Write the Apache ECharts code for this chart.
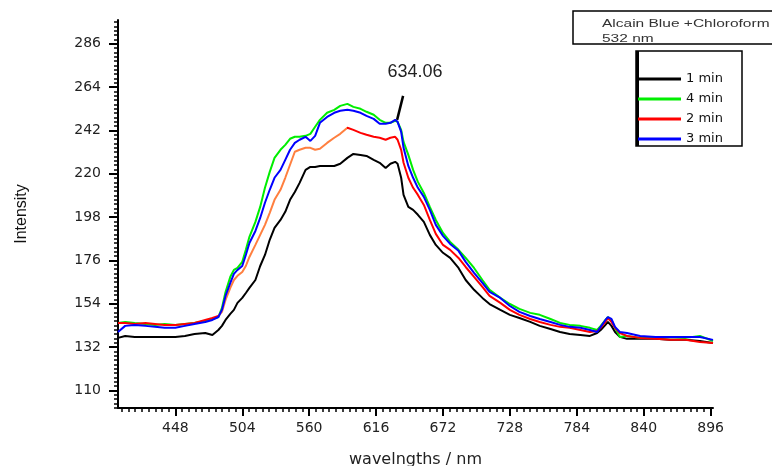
<!DOCTYPE html>
<html><head><meta charset="utf-8">
<script src="https://cdn.jsdelivr.net/npm/echarts@6/dist/echarts.min.js"></script>
<style>html,body{margin:0;padding:0;background:#fff}#c{width:772px;height:466px}</style>
</head><body><div id="c"></div>
<script>
// wavelengths (nm)
const wavelengths = [400,406,414,423,431,439,448,456,464,473,479,484,487,490,494,497,500,504,507,510,515,519,523,527,531,536,540,544,548,552,557,561,565,569,575,581,586,592,597,603,608,614,619,624,628,632,634,637,639,643,647,651,656,661,666,672,678,685,691,698,705,711,720,728,736,745,753,762,770,778,787,795,801,804,808,810,813,816,820,826,837,850,862,875,887,898];
// Intensity, 1 min (black)
const min1 = [136.6,137.6,137.1,137.1,137.1,137.1,137.1,137.6,138.6,139.1,138.1,140.6,142.7,145.7,148.8,150.8,154.4,156.9,159.4,162.0,166.0,173.1,178.7,186.4,192.5,196.5,200.6,206.7,210.7,215.3,221.9,223.4,223.4,223.9,223.9,223.9,225.0,228.0,230.0,229.5,229.0,227.0,225.5,222.9,225.0,226.0,225.0,217.9,209.2,203.1,201.6,199.1,195.5,188.9,183.8,179.8,177.2,172.1,166.0,161.0,156.9,153.8,150.8,148.3,146.7,144.7,142.7,141.1,139.6,138.6,138.1,137.6,139.1,140.6,143.2,144.7,142.7,139.6,137.1,136.1,136.1,136.1,135.6,135.6,135.0,134.0];
// Intensity, 4 min (green)
const min4 = [144.2,144.7,144.2,143.7,143.2,143.7,143.2,143.7,144.2,145.2,146.2,147.2,151.8,159.9,167.6,171.1,172.1,175.2,181.3,187.9,195.5,203.1,212.8,220.9,228.0,232.1,234.6,237.7,238.7,238.7,239.2,240.2,243.8,247.3,250.9,252.4,254.4,255.4,253.9,252.9,251.4,249.9,247.3,245.8,245.8,246.8,246.3,242.2,236.1,229.5,221.9,215.8,210.2,203.1,196.5,189.9,185.3,181.3,177.2,172.1,166.0,161.0,156.9,153.8,151.3,149.3,148.3,146.2,144.2,143.2,142.7,141.7,140.6,142.7,145.7,147.2,145.7,141.7,137.1,137.6,136.6,136.6,137.1,136.6,137.6,135.0];
// Intensity, 2 min (red)
const min2 = [144.2,144.2,143.7,144.2,143.7,143.2,143.2,143.7,144.2,145.7,146.7,147.7,149.8,155.9,162.0,166.0,168.1,170.1,173.1,177.7,183.8,188.9,194.0,200.1,206.7,211.8,217.9,224.5,231.1,232.1,233.1,233.1,232.1,232.6,235.6,238.2,240.2,243.3,242.2,240.7,239.7,238.7,238.2,237.2,238.2,238.7,237.2,232.1,225.5,217.9,212.8,209.2,204.1,196.5,189.4,183.8,181.3,177.2,172.6,167.6,162.5,157.9,154.4,150.8,148.3,146.2,144.7,143.2,142.2,141.7,140.6,139.6,140.1,141.7,144.7,146.7,144.7,141.7,139.1,137.6,136.6,136.1,135.6,135.6,134.5,134.0];
// Intensity, 3 min (blue)
const min3 = [139.6,142.7,143.2,142.7,142.2,141.7,141.7,142.7,143.7,144.7,145.7,147.2,150.8,157.9,164.5,169.1,171.1,173.1,178.7,184.8,190.9,197.5,205.2,211.8,217.9,221.9,227.0,232.1,235.6,237.2,238.7,236.6,239.2,245.8,248.8,250.9,251.9,252.4,251.9,250.9,249.3,247.8,245.3,245.3,245.8,247.3,246.3,241.2,233.1,223.9,217.9,212.8,208.2,201.6,194.0,188.4,184.3,180.8,175.2,169.6,164.5,159.9,156.9,152.8,149.8,147.7,146.2,144.7,143.2,142.2,141.7,140.6,139.6,142.2,145.7,147.2,146.2,142.2,139.6,139.1,137.6,137.1,137.1,137.1,137.1,135.6];

const seriesNames = ['1 min','4 min','2 min','3 min'];
const seriesColors = ['#000000','#00ee00','#ff0000','#0000ff'];
const orangeSegment = [484, 592];
const orangeColor = '#ff7f3f';
const xTicks = [448,504,560,616,672,728,784,840,896];
const yTicks = [110,132,154,176,198,220,242,264,286];
const peakLabel = '634.06';
const peakArrow = [[633.6,247.3],[638.6,259.5]];
const peakLabelAt = [648.5,271.7];
const boxTitle = ['Alcain Blue +Chloroform','532 nm'];

const X_MIN = 400, X_MAX = 898, Y_MIN = 101, Y_MAX = 298;
const xMinor = []; for (let i = 0; i < 100; i++) { const v = +(403.2 + i*5.6).toFixed(1); if (v > X_MAX) break; xMinor.push(v); }
const yMinor = []; for (let i = 0; i < 100; i++) { const v = +(101.2 + i*2.2).toFixed(1); if (v > Y_MAX) break; yMinor.push(v); }

function pairs(vals){ return wavelengths.map((w,i)=>[w, vals[i]]); }
const allVals = [min1, min4, min2, min3];

const font = 'DejaVu Sans';
const chart = echarts.init(document.getElementById('c'), null, {renderer:'canvas'});
const series = seriesNames.map((n,i)=>{
  const s = {name:n, type:'line', xAxisIndex:0, yAxisIndex:0, data:pairs(allVals[i]),
    showSymbol:false, symbol:'none', smooth:false, lineStyle:{width:2}, z:2+i};
  if (i !== 2) { s.lineStyle.color = seriesColors[i]; s.itemStyle = {color:seriesColors[i]}; }
  return s;
});
series[0].markLine = {silent:true, symbol:['none','none'], animation:false,
  lineStyle:{color:'#000', width:2.5, type:'solid'}, label:{show:false},
  data:[[{coord:peakArrow[0]},{coord:peakArrow[1]}]]};
series[0].markPoint = {silent:true, symbol:'circle', symbolSize:0, animation:false,
  data:[{coord:peakLabelAt, value:peakLabel}],
  label:{show:true, position:'inside', formatter:peakLabel, color:'#222', fontSize:18, fontFamily:'Liberation Sans'}};

chart.setOption({
  animation:false,
  backgroundColor:'#fff',
  grid:{left:118, right:59, top:20, bottom:58, containLabel:false, outerBoundsMode:'none'},
  xAxis:[
    {type:'value', position:'bottom', min:X_MIN, max:X_MAX,
     axisLine:{show:true, onZero:false, lineStyle:{color:'#000', width:2}},
     axisTick:{show:true, customValues:xTicks, length:8, lineStyle:{color:'#000', width:2}},
     axisLabel:{show:true, customValues:xTicks, margin:13, fontSize:14, color:'#222', fontFamily:font},
     splitLine:{show:false},
     name:'wavelngths / nm', nameLocation:'middle', nameGap:44,
     nameTextStyle:{fontSize:16, color:'#222', fontFamily:'DejaVu Sans'}},
    {type:'value', position:'bottom', min:X_MIN, max:X_MAX,
     axisLine:{show:false, onZero:false}, axisTick:{show:true, customValues:xMinor, length:4, lineStyle:{color:'#000', width:1.5}},
     axisLabel:{show:false}, splitLine:{show:false}}
  ],
  yAxis:[
    {type:'value', position:'left', min:Y_MIN, max:Y_MAX,
     axisLine:{show:true, onZero:false, lineStyle:{color:'#000', width:2}},
     axisTick:{show:true, customValues:yTicks, length:9, lineStyle:{color:'#000', width:2}},
     axisLabel:{show:true, customValues:yTicks, margin:17, fontSize:14, color:'#222', fontFamily:font},
     splitLine:{show:false},
     name:'Intensity', nameLocation:'middle', nameGap:88, nameRotate:90,
     nameTextStyle:{fontSize:16, color:'#111', fontFamily:'Liberation Sans'}},
    {type:'value', position:'left', min:Y_MIN, max:Y_MAX,
     axisLine:{show:false, onZero:false}, axisTick:{show:true, customValues:yMinor, length:4, lineStyle:{color:'#000', width:1.5}},
     axisLabel:{show:false}, splitLine:{show:false}}
  ],
  visualMap:{type:'piecewise', show:false, seriesIndex:2, dimension:0,
    pieces:[{lt:orangeSegment[0], color:seriesColors[2]},{gte:orangeSegment[0], lt:orangeSegment[1], color:orangeColor},{gte:orangeSegment[1], color:seriesColors[2]}]},
  legend:{orient:'vertical', left:638, top:71, padding:0, itemGap:4, itemWidth:43, itemHeight:3, icon:'rect',
    data:seriesNames.map((n,i)=>({name:n, itemStyle:{color:seriesColors[i]}})),
    textStyle:{fontSize:13, color:'#111', fontFamily:'DejaVu Sans', lineHeight:16}},
  graphic:[
    {type:'rect', shape:{x:573, y:11, width:210, height:33}, style:{fill:'none', stroke:'#000', lineWidth:1.5}},
    {type:'text', x:602, y:19, scaleX:1.55, style:{text:boxTitle[0], fontSize:10, fill:'#333', fontFamily:'Liberation Sans'}},
    {type:'text', x:602, y:34, scaleX:1.55, style:{text:boxTitle[1], fontSize:10, fill:'#333', fontFamily:'Liberation Sans'}},
    {type:'rect', shape:{x:636, y:51, width:106, height:95}, style:{fill:'none', stroke:'#000', lineWidth:1.5}},
    {type:'line', shape:{x1:637.5, y1:51, x2:637.5, y2:146}, style:{stroke:'#000', lineWidth:3}}
  ],
  series:series
});
</script></body></html>
